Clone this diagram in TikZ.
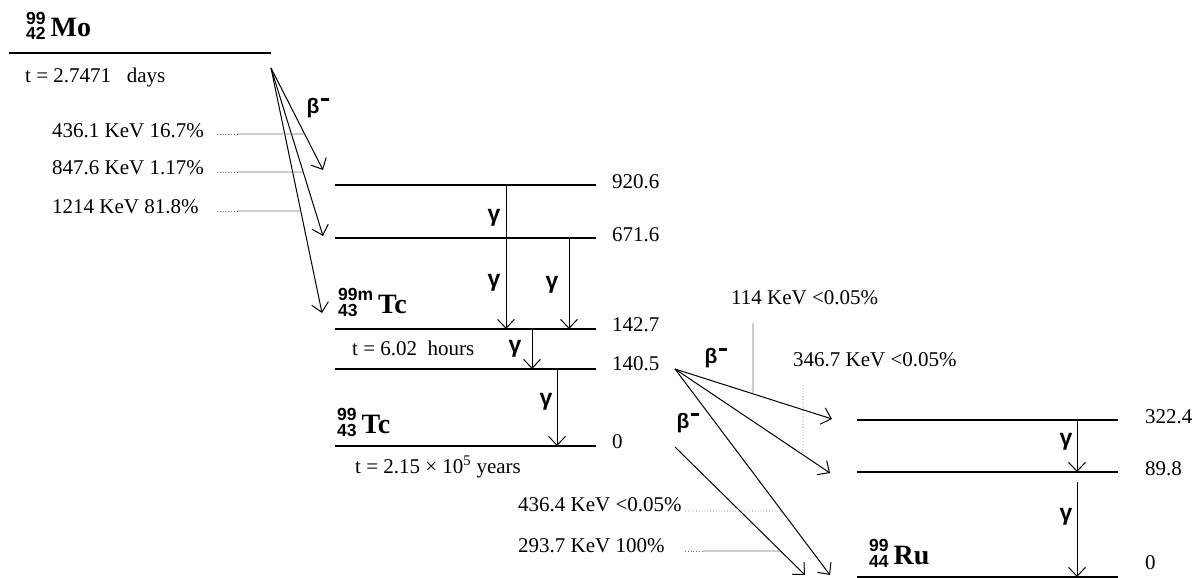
\documentclass[tikz,border=0pt]{standalone}
\usepackage{fontspec}
\setmainfont{Liberation Serif}
\setsansfont{Liberation Sans}
\usetikzlibrary{arrows.meta}
\newcommand\nucsmall{\fontsize{17.5}{18}\selectfont\sffamily\bfseries}
\newcommand\nucbig{\fontsize{28}{30}\selectfont\rmfamily\bfseries}
\newcommand\nuc[3]{\raisebox{-3pt}{\nucsmall\shortstack[l]{#1\\#2}}\hspace{5pt}{\nucbig #3}}
\newcommand\gam{{\fontsize{23}{24}\selectfont\sffamily\bfseries γ}}
\newcommand\bet{{\fontsize{21}{22}\selectfont\sffamily\bfseries β\kern1pt\rule[0.62em]{0.42em}{0.13em}}}
\tikzset{
  lvl/.style={line width=1.3pt},
  arr/.style={line width=1pt,-{Straight Barb[length=9pt,width=17pt,line width=1pt]}},
  leader/.style={line width=0.8pt,black!55},
  lab/.style={inner sep=0pt,anchor=west,font=\fontsize{21}{22}\selectfont},
  sym/.style={inner sep=0pt},
  nucl/.style={inner sep=0pt,anchor=base west},
}
\begin{document}
\begin{tikzpicture}[x=1pt,y=-1pt]
\useasboundingbox (0,0) rectangle (1197,578);
% ---------- Mo ----------
\node[nucl] (mo) at (26,37) {\nuc{99}{42}{Mo}};
\coordinate (moL) at (9,53); \coordinate (moR) at (271,53);
\draw[lvl] (moL) -- (moR);
\node[lab] (tmo) at (25,77) {t = 2.7471~~~days};
\coordinate (mos) at (271,68);
\coordinate (t1) at (323,170);
\coordinate (t2) at (323,236);
\coordinate (t3) at (322,313);
\draw[arr] (mos) -- (t1);
\draw[arr] (mos) -- (t2);
\draw[arr] (mos) -- (t3);
\node[sym] (bmo) at (318,108) {\bet};
\node[lab] (e1) at (52,131) {436.1 KeV 16.7\%};
\node[lab] (e2) at (52,168) {847.6 KeV 1.17\%};
\node[lab] (e3) at (52,207) {1214 KeV 81.8\%};
\coordinate (l1a) at (217,134); \coordinate (l1b) at (237,134); \coordinate (l1c) at (330,134);
\coordinate (l2a) at (217,172); \coordinate (l2b) at (237,172); \coordinate (l2c) at (330,172);
\coordinate (l3a) at (217,211); \coordinate (l3b) at (237,211); \coordinate (l3c) at (330,211);
\draw[leader,dotted] (l1a) -- (l1b);
\draw[leader] (l1b) -- (intersection of l1b--l1c and mos--t1);
\draw[leader,dotted] (l2a) -- (l2b);
\draw[leader] (l2b) -- (intersection of l2b--l2c and mos--t2);
\draw[leader,dotted] (l3a) -- (l3b);
\draw[leader] (l3b) -- (intersection of l3b--l3c and mos--t3);
% ---------- Tc levels ----------
\coordinate (a1) at (335,185); \coordinate (b1) at (596,185);
\coordinate (a2) at (335,238); \coordinate (b2) at (596,238);
\coordinate (a3) at (335,329); \coordinate (b3) at (596,329);
\coordinate (a4) at (335,369); \coordinate (b4) at (596,369);
\coordinate (a5) at (335,446); \coordinate (b5) at (596,446);
\foreach \i in {1,...,5} {\draw[lvl] (a\i) -- (b\i);}
\node[lab] (v1) at (612,182) {920.6};
\node[lab] (v2) at (612,235) {671.6};
\node[lab] (v3) at (612,325) {142.7};
\node[lab] (v4) at (612,364) {140.5};
\node[lab] (v5) at (612,442) {0};
\node[nucl] (tcm) at (338,313) {\nuc{99m}{43}{Tc}};
\node[nucl] (tc) at (337,433) {\nuc{99}{43}{Tc}};
\node[lab] (ttcm) at (352,348) {t = 6.02 ~hours};
\node[lab] (ttc) at (355,467) {t = 2.15 × 10\textsuperscript{5} years};
% gammas
\coordinate (g1s) at (506,185); \coordinate (g1e) at (506,329);
\coordinate (g2s) at (569,238); \coordinate (g2e) at (569,329);
\coordinate (g3s) at (532,329); \coordinate (g3e) at (532,369);
\coordinate (g4s) at (557,369); \coordinate (g4e) at (557,446);
\draw[arr] (g1s) -- (g1e);
\draw[arr] (g2s) -- (g2e);
\draw[arr] (g3s) -- (g3e);
\draw[arr] (g4s) -- (g4e);
\node[sym] (y1) at (494,218) {\gam};
\node[sym] (y2) at (494,283) {\gam};
\node[sym] (y3) at (552,285) {\gam};
\node[sym] (y4) at (515,349) {\gam};
\node[sym] (y5) at (546,402) {\gam};
% ---------- Ru ----------
\coordinate (rs) at (675,369);
\coordinate (rs2) at (675,447);
\coordinate (r1) at (832,419);
\coordinate (r2) at (830,473);
\coordinate (r3) at (830,575);
\coordinate (r4) at (805,575);
\draw[arr] (rs) -- (r1);
\draw[arr] (rs) -- (r2);
\draw[arr] (rs) -- (r3);
\draw[arr] (rs2) -- (r4);
\node[sym] (b1) at (716,358) {\bet};
\node[sym] (b2) at (688,423) {\bet};
\node[lab] (k1) at (731,298) {114 KeV <0.05\%};
\node[lab] (k2) at (793,360) {346.7 KeV <0.05\%};
\node[lab] (k3) at (518,505) {436.4 KeV <0.05\%};
\node[lab] (k4) at (518,546) {293.7 KeV 100\%};
\coordinate (m1a) at (753,323); \coordinate (m1b) at (753,450);
\draw[leader] (m1a) -- (intersection of m1a--m1b and rs--r1);
\coordinate (m2a) at (803,385); \coordinate (m2b) at (803,500);
\draw[leader,dotted] (m2a) -- (intersection of m2a--m2b and rs--r2);
\coordinate (m3a) at (685,511); \coordinate (m3b) at (850,511);
\draw[leader,dotted] (m3a) -- (intersection of m3a--m3b and rs--r3);
\coordinate (m4a) at (685,551); \coordinate (m4b) at (703,551); \coordinate (m4c) at (850,551);
\draw[leader,dotted] (m4a) -- (m4b);
\draw[leader] (m4b) -- (intersection of m4b--m4c and rs2--r4);
\coordinate (c1) at (857,420); \coordinate (d1) at (1118,420);
\coordinate (c2) at (857,472); \coordinate (d2) at (1118,472);
\coordinate (c3) at (857,577); \coordinate (d3) at (1118,577);
\foreach \i in {1,2,3} {\draw[lvl] (c\i) -- (d\i);}
\node[lab] (w1) at (1145,417) {322.4};
\node[lab] (w2) at (1145,469) {89.8};
\node[lab] (w3) at (1145,563) {0};
\node[nucl] (ru) at (869,564) {\nuc{99}{44}{Ru}};
\coordinate (h1s) at (1077,420); \coordinate (h1e) at (1077,472);
\coordinate (h2s) at (1077,482); \coordinate (h2e) at (1077,577);
\draw[arr] (h1s) -- (h1e);
\draw[arr] (h2s) -- (h2e);
\node[sym] (y6) at (1066,442) {\gam};
\node[sym] (y7) at (1066,517) {\gam};
\end{tikzpicture}
\end{document}
